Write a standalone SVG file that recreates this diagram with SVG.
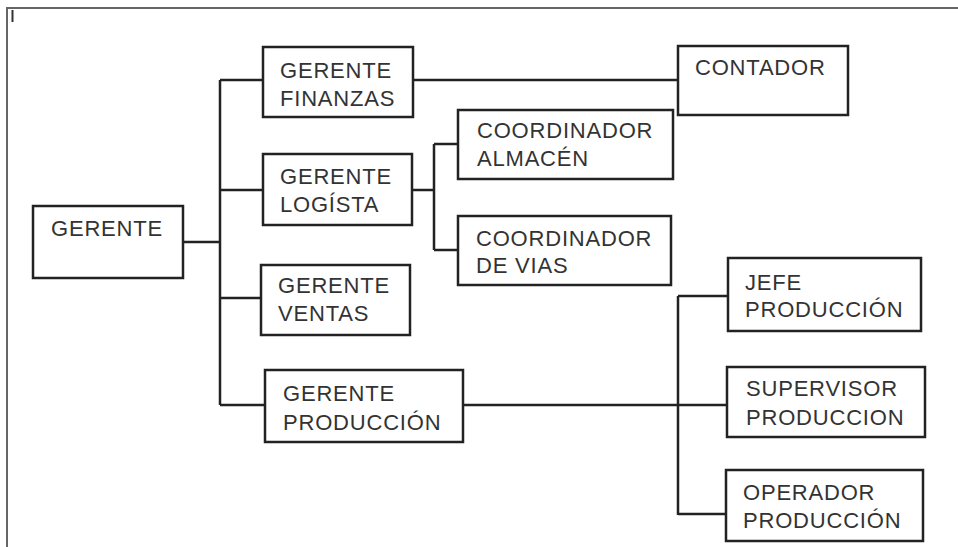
<svg xmlns="http://www.w3.org/2000/svg" width="958" height="547" viewBox="0 0 958 547">
<style>
.box{fill:#fff;stroke:#222;stroke-width:2.5}
.ln{fill:none;stroke:#222;stroke-width:2.5}
text{font-family:"Liberation Sans",Arial,sans-serif;font-size:22px;fill:#333;letter-spacing:0.8px}
</style>
<rect width="958" height="547" fill="#fff"/>
<g id="frame"><path d="M7,547 V8 H958" fill="none" stroke="#666" stroke-width="2"/><path d="M12.5,10 V22" stroke="#333" stroke-width="2"/></g>
<g id="connectors" class="ln">
<path class="ln" d="M183,242 H220 M220,80 V405 M220,80 H263 M220,190 H263 M220,298 H261 M220,405 H265"/>
<path class="ln" d="M412,80 H678"/>
<path class="ln" d="M412,190 H434 M434,144 V250 M434,144 H458 M434,250 H458"/>
<path class="ln" d="M463,405 H727 M678,296 V515 M678,296 H728 M678,514 H726"/>
</g>
<g id="gerente"><rect class="box" x="33" y="206" width="150" height="72"/><text x="51" y="236">GERENTE</text></g>
<g id="finanzas"><rect class="box" x="263" y="47" width="150" height="70"/><text x="280" y="78">GERENTE</text><text x="280" y="106">FINANZAS</text></g>
<g id="contador"><rect class="box" x="678" y="46" width="170" height="69"/><text x="695" y="75">CONTADOR</text></g>
<g id="logista"><rect class="box" x="263" y="154" width="149" height="71"/><text x="280" y="184">GERENTE</text><text x="280" y="212">LOGÍSTA</text></g>
<g id="almacen"><rect class="box" x="458" y="110" width="215" height="69"/><text x="477" y="138">COORDINADOR</text><text x="477" y="166">ALMACÉN</text></g>
<g id="vias"><rect class="box" x="458" y="216" width="213" height="69"/><text x="476" y="246">COORDINADOR</text><text x="476" y="273">DE VIAS</text></g>
<g id="ventas"><rect class="box" x="261" y="265" width="149" height="70"/><text x="278" y="293">GERENTE</text><text x="278" y="321">VENTAS</text></g>
<g id="produccion"><rect class="box" x="265" y="370" width="198" height="72"/><text x="283" y="401">GERENTE</text><text x="283" y="430">PRODUCCIÓN</text></g>
<g id="jefe"><rect class="box" x="728" y="258" width="193" height="73"/><text x="745" y="290">JEFE</text><text x="745" y="317">PRODUCCIÓN</text></g>
<g id="supervisor"><rect class="box" x="727" y="367" width="198" height="70"/><text x="746" y="396">SUPERVISOR</text><text x="746" y="425">PRODUCCION</text></g>
<g id="operador"><rect class="box" x="726" y="470" width="197" height="71"/><text x="743" y="500">OPERADOR</text><text x="743" y="528">PRODUCCIÓN</text></g>
</svg>
